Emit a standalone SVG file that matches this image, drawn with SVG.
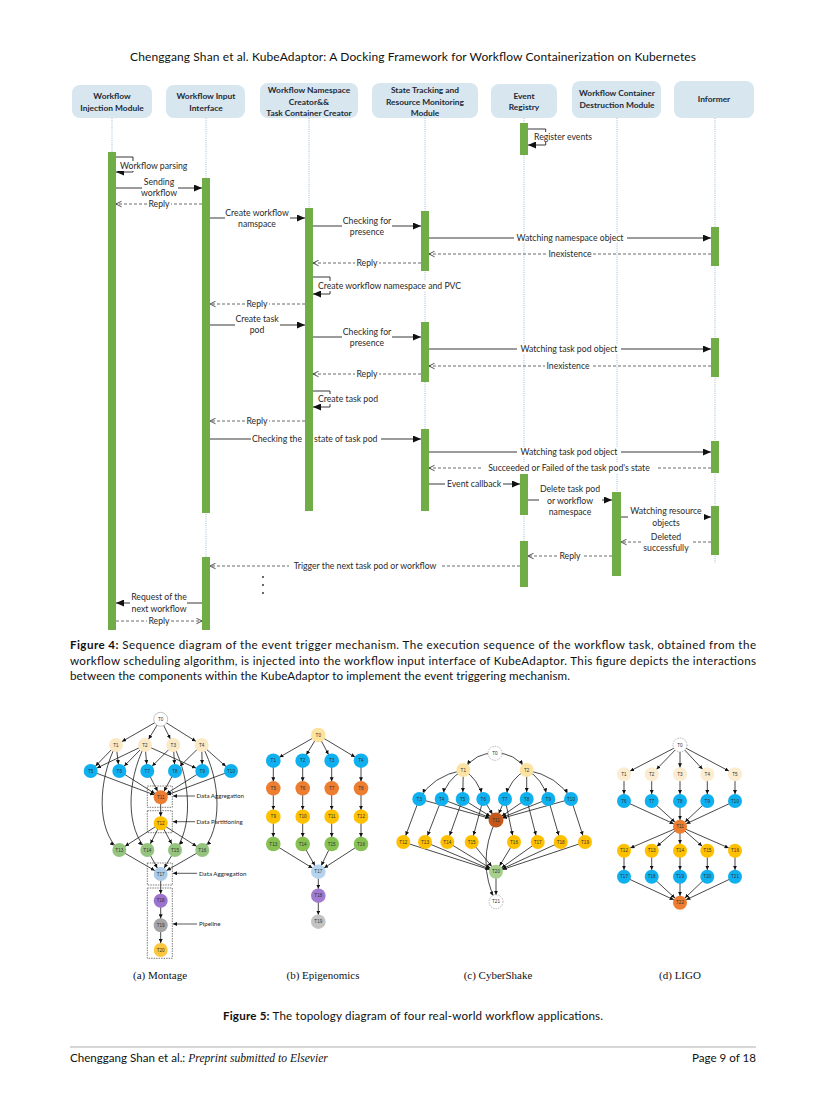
<svg xmlns="http://www.w3.org/2000/svg" width="827" height="1102" viewBox="0 0 827 1102">
<style>
.hdr{fill:#d7e6ef}
.ht{font-family:Lato,"Liberation Sans",sans-serif;font-weight:bold;font-size:8.4px;fill:#1e2a36;text-anchor:middle}
.life{stroke:#86acd4;stroke-width:0.8;stroke-dasharray:1 1.2;fill:none}
.bar{fill:#70ad47}
.msg{stroke:#222;stroke-width:0.9;fill:none}
.ret{stroke:#444;stroke-width:0.8;stroke-dasharray:3 2;fill:none}
.bg{fill:#fff}
.mt{font-family:Lato,"Liberation Sans",sans-serif;font-size:8.7px;fill:#2a2a2a;text-anchor:middle}
.ms{font-family:Lato,"Liberation Sans",sans-serif;font-size:8.7px;fill:#2a2a2a;text-anchor:start}
.cap{font-family:Lato,"Liberation Sans",sans-serif;font-size:11.6px;fill:#111}
.capb{font-weight:bold}
.sub{font-family:"Liberation Serif",serif;font-size:11px;fill:#111;text-anchor:middle}
.de{stroke:#1a1a1a;stroke-width:0.8;fill:none;marker-end:url(#dh)}
.nl{font-family:"Liberation Sans",sans-serif;font-size:4.6px;fill:#333;text-anchor:middle;dominant-baseline:central}
.dbox{fill:none;stroke:#444;stroke-width:0.7;stroke-dasharray:1.5 1}
.ann{font-family:Lato,"Liberation Sans",sans-serif;font-size:6.2px;fill:#222}
.cr{fill:#fbe8c4}.bl{fill:#0fb0ef}.or{fill:#ed7d31}.ye{fill:#ffc000}.wh{fill:#fff;stroke:#999;stroke-width:0.6}.whd{fill:#fff;stroke:#888;stroke-width:0.6;stroke-dasharray:1.5 1}
</style>
<defs>
<marker id="fa" viewBox="0 0 10 10" refX="10" refY="5" markerWidth="8" markerHeight="7" markerUnits="userSpaceOnUse" orient="auto" preserveAspectRatio="none"><path d="M0,0 L10,5 L0,10z" fill="#111"/></marker>
<marker id="oa" viewBox="0 0 10 10" refX="9" refY="5" markerWidth="7" markerHeight="7" markerUnits="userSpaceOnUse" orient="auto"><path d="M1,1 L9,5 L1,9" fill="none" stroke="#333" stroke-width="1.2"/></marker>
<marker id="dh" viewBox="0 0 10 10" refX="27.5" refY="5" markerWidth="4" markerHeight="4" markerUnits="userSpaceOnUse" orient="auto"><path d="M0,0 L10,5 L0,10z" fill="#111"/></marker>
<marker id="ah2" viewBox="0 0 10 10" refX="10" refY="5" markerWidth="4" markerHeight="4" markerUnits="userSpaceOnUse" orient="auto"><path d="M0,0 L10,5 L0,10z" fill="#111"/></marker>
</defs>
<rect width="827" height="1102" fill="#fff"/>
<text x="413" y="61" class="cap" text-anchor="middle" style="font-size:12px" textLength="566">Chenggang Shan et al. KubeAdaptor: A Docking Framework for Workflow Containerization on Kubernetes</text>

<!-- lifelines -->
<g id="lifelines">
<line class="life" x1="112" y1="118" x2="112" y2="152"/>
<line class="life" x1="206" y1="118" x2="206" y2="557"/>
<line class="life" x1="309" y1="118" x2="309" y2="208"/>
<line class="life" x1="425" y1="118" x2="425" y2="429"/>
<line class="life" x1="524" y1="118" x2="524" y2="541"/>
<line class="life" x1="617" y1="118" x2="617" y2="492"/>
<line class="life" x1="715" y1="118" x2="715" y2="563"/>
</g>

<g id="h1"><rect class="hdr" x="72" y="85" width="80" height="33" rx="8"/><text class="ht" x="112" y="99">Workflow</text><text class="ht" x="112" y="110.5">Injection Module</text></g>
<g id="h2"><rect class="hdr" x="166" y="85" width="79" height="33" rx="8"/><text class="ht" x="206" y="99">Workflow Input</text><text class="ht" x="206" y="110.5">Interface</text></g>
<g id="h3"><rect class="hdr" x="260" y="83" width="98" height="35" rx="8"/><text class="ht" x="309" y="93">Workflow Namespace</text><text class="ht" x="309" y="104.5">Creator&amp;&amp;</text><text class="ht" x="309" y="116">Task Container Creator</text></g>
<g id="h4"><rect class="hdr" x="372" y="83" width="106" height="35" rx="8"/><text class="ht" x="425" y="93">State Tracking and</text><text class="ht" x="425" y="104.5">Resource Monitoring</text><text class="ht" x="425" y="116">Module</text></g>
<g id="h5"><rect class="hdr" x="491" y="84" width="66" height="34" rx="8"/><text class="ht" x="524" y="98.5">Event</text><text class="ht" x="524" y="110">Registry</text></g>
<g id="h6"><rect class="hdr" x="572" y="81" width="89" height="37" rx="8"/><text class="ht" x="617" y="96">Workflow Container</text><text class="ht" x="617" y="107.7">Destruction Module</text></g>
<g id="h7"><rect class="hdr" x="674" y="81" width="80" height="37" rx="8"/><text class="ht" x="714" y="102">Informer</text></g>

<!-- messages -->
<g id="messages">
<path class="msg" d="M528,129 H545.7 V145 H528" marker-end="url(#fa)"/>
<rect class="bg" x="533" y="132" width="62" height="10"/><text class="ms" x="534" y="140.3">Register events</text>

<path class="msg" d="M116,157 H133 V172 H116" marker-end="url(#fa)"/>
<rect class="bg" x="119" y="161" width="71" height="10"/><text class="ms" x="120" y="169">Workflow parsing</text>

<line class="msg" x1="116" y1="188" x2="202" y2="188" marker-end="url(#fa)"/>
<rect class="bg" x="142" y="176" width="36" height="22"/><text class="mt" x="159" y="185">Sending</text><text class="mt" x="159" y="196">workflow</text>

<line class="ret" x1="202" y1="204" x2="116" y2="204" marker-end="url(#oa)"/>
<rect class="bg" x="147" y="199" width="24" height="10"/><text class="mt" x="159" y="207">Reply</text>

<line class="msg" x1="210" y1="218" x2="305" y2="218" marker-end="url(#fa)"/>
<rect class="bg" x="225" y="207" width="65" height="22"/><text class="mt" x="257" y="216">Create workflow</text><text class="mt" x="257" y="227">namspace</text>

<line class="msg" x1="313" y1="226" x2="421" y2="226" marker-end="url(#fa)"/>
<rect class="bg" x="342" y="215" width="50" height="22"/><text class="mt" x="367" y="224">Checking for</text><text class="mt" x="367" y="235">presence</text>

<line class="msg" x1="429" y1="238" x2="711" y2="238" marker-end="url(#fa)"/>
<rect class="bg" x="514" y="233" width="113" height="10"/><text class="mt" x="570" y="241">Watching namespace object</text>

<line class="ret" x1="711" y1="254" x2="429" y2="254" marker-end="url(#oa)"/>
<rect class="bg" x="547" y="249" width="46" height="10"/><text class="mt" x="570" y="257">Inexistence</text>

<line class="ret" x1="421" y1="263" x2="313" y2="263" marker-end="url(#oa)"/>
<rect class="bg" x="355" y="258" width="24" height="10"/><text class="mt" x="367" y="266">Reply</text>

<path class="msg" d="M313,277 H330 V294 H313" marker-end="url(#fa)"/>
<rect class="bg" x="317" y="281" width="146" height="10"/><text class="ms" x="318" y="289">Create workflow namespace and PVC</text>

<line class="ret" x1="305" y1="304" x2="210" y2="304" marker-end="url(#oa)"/>
<rect class="bg" x="245" y="299" width="24" height="10"/><text class="mt" x="257" y="307">Reply</text>

<line class="msg" x1="210" y1="325" x2="305" y2="325" marker-end="url(#fa)"/>
<rect class="bg" x="235" y="314" width="45" height="22"/><text class="mt" x="257" y="322">Create task</text><text class="mt" x="257" y="333">pod</text>

<line class="msg" x1="313" y1="337" x2="421" y2="337" marker-end="url(#fa)"/>
<rect class="bg" x="342" y="326" width="50" height="22"/><text class="mt" x="367" y="335">Checking for</text><text class="mt" x="367" y="346">presence</text>

<line class="msg" x1="429" y1="349" x2="711" y2="349" marker-end="url(#fa)"/>
<rect class="bg" x="517" y="344" width="104" height="10"/><text class="mt" x="569" y="352">Watching task pod object</text>

<line class="ret" x1="711" y1="366" x2="429" y2="366" marker-end="url(#oa)"/>
<rect class="bg" x="545" y="361" width="46" height="10"/><text class="mt" x="568" y="369">Inexistence</text>

<line class="ret" x1="421" y1="374" x2="313" y2="374" marker-end="url(#oa)"/>
<rect class="bg" x="355" y="369" width="24" height="10"/><text class="mt" x="367" y="377">Reply</text>

<path class="msg" d="M313,391 H330 V407 H313" marker-end="url(#fa)"/>
<rect class="bg" x="317" y="394" width="66" height="10"/><text class="ms" x="318" y="402">Create task pod</text>

<line class="ret" x1="305" y1="421" x2="210" y2="421" marker-end="url(#oa)"/>
<rect class="bg" x="245" y="416" width="24" height="10"/><text class="mt" x="257" y="424">Reply</text>

<line class="msg" x1="210" y1="439" x2="421" y2="439" marker-end="url(#fa)"/>
<rect class="bg" x="251" y="434" width="130" height="10"/><text class="mt" x="302" y="442" style="text-anchor:end">Checking the</text><text class="ms" x="314" y="442">state of task pod</text>

<line class="msg" x1="429" y1="452" x2="711" y2="452" marker-end="url(#fa)"/>
<rect class="bg" x="517" y="447" width="104" height="10"/><text class="mt" x="569" y="455">Watching task pod object</text>

<line class="ret" x1="711" y1="468" x2="429" y2="468" marker-end="url(#oa)"/>
<rect class="bg" x="482" y="463" width="175" height="10"/><text class="mt" x="569" y="471">Succeeded or Failed of the task pod's state</text>

<line class="msg" x1="429" y1="484" x2="520" y2="484" marker-end="url(#fa)"/>
<rect class="bg" x="445" y="479" width="58" height="10"/><text class="mt" x="474" y="487">Event callback</text>

<line class="msg" x1="528" y1="500" x2="612" y2="500" marker-end="url(#fa)"/>
<rect class="bg" x="539" y="483" width="63" height="34"/><text class="mt" x="570" y="492">Delete task pod</text><text class="mt" x="570" y="504">or workflow</text><text class="mt" x="570" y="515">namespace</text>

<line class="msg" x1="621" y1="517" x2="711" y2="517" marker-end="url(#fa)"/>
<rect class="bg" x="628" y="505" width="76" height="22"/><text class="mt" x="666" y="514">Watching resource</text><text class="mt" x="666" y="526">objects</text>

<line class="ret" x1="711" y1="542" x2="621" y2="542" marker-end="url(#oa)"/>
<rect class="bg" x="641" y="531" width="50" height="22"/><text class="mt" x="666" y="540">Deleted</text><text class="mt" x="666" y="551">successfully</text>

<line class="ret" x1="612" y1="556" x2="528" y2="556" marker-end="url(#oa)"/>
<rect class="bg" x="558" y="551" width="24" height="10"/><text class="mt" x="570" y="559">Reply</text>

<line class="ret" x1="520" y1="566" x2="210" y2="566" marker-end="url(#oa)"/>
<rect class="bg" x="289" y="561" width="152" height="10"/><text class="mt" x="365" y="569">Trigger the next task pod or workflow</text>

<circle cx="263" cy="577" r="0.9" fill="#222"/><circle cx="263" cy="585" r="0.9" fill="#222"/><circle cx="263" cy="593" r="0.9" fill="#222"/>

<line class="msg" x1="202" y1="603" x2="116" y2="603" marker-end="url(#fa)"/>
<rect class="bg" x="130" y="591" width="57" height="23"/><text class="mt" x="159" y="600">Request of the</text><text class="mt" x="159" y="612">next workflow</text>

<line class="ret" x1="116" y1="621" x2="202" y2="621" marker-end="url(#oa)"/>
<rect class="bg" x="147" y="616" width="24" height="10"/><text class="mt" x="159" y="624">Reply</text>
</g>

<!-- activation bars -->
<g id="bars">
<rect class="bar" x="108" y="152" width="8" height="478"/>
<rect class="bar" x="202" y="178" width="8" height="335"/>
<rect class="bar" x="202" y="557" width="8" height="73"/>
<rect class="bar" x="305" y="208" width="8" height="303"/>
<rect class="bar" x="421" y="211" width="8" height="60"/>
<rect class="bar" x="421" y="322" width="8" height="60"/>
<rect class="bar" x="421" y="429" width="8" height="82"/>
<rect class="bar" x="520" y="123" width="8" height="32"/>
<rect class="bar" x="520" y="474" width="8" height="41"/>
<rect class="bar" x="520" y="541" width="8" height="46"/>
<rect class="bar" x="612" y="492" width="9" height="84"/>
<rect class="bar" x="711" y="227" width="8" height="39"/>
<rect class="bar" x="711" y="338" width="8" height="39"/>
<rect class="bar" x="711" y="441" width="8" height="32"/>
<rect class="bar" x="711" y="506" width="8" height="49"/>
</g>

<text class="cap" x="70" y="649" textLength="686"><tspan class="capb">Figure 4:</tspan> Sequence diagram of the event trigger mechanism. The execution sequence of the workflow task, obtained from the</text>
<text class="cap" x="70" y="665" textLength="686">workflow scheduling algorithm, is injected into the workflow input interface of KubeAdaptor. This figure depicts the interactions</text>
<text class="cap" x="70" y="680" textLength="500">between the components within the KubeAdaptor to implement the event triggering mechanism.</text>

<!-- Montage -->
<g id="montage-edges">
<line class="de" x1="160.7" y1="719.3" x2="116" y2="745"/><line class="de" x1="160.7" y1="719.3" x2="145" y2="745"/><line class="de" x1="160.7" y1="719.3" x2="173.3" y2="745"/><line class="de" x1="160.7" y1="719.3" x2="201.7" y2="745"/>
<line class="de" x1="116" y1="745" x2="90.7" y2="771"/><line class="de" x1="116" y1="745" x2="119.3" y2="771"/>
<line class="de" x1="145" y1="745" x2="90.7" y2="771"/><line class="de" x1="145" y1="745" x2="119.3" y2="771"/><line class="de" x1="145" y1="745" x2="147.3" y2="771"/><line class="de" x1="145" y1="745" x2="202.3" y2="771"/>
<line class="de" x1="173.3" y1="745" x2="147.3" y2="771"/><line class="de" x1="173.3" y1="745" x2="175" y2="771"/>
<line class="de" x1="201.7" y1="745" x2="175" y2="771"/><line class="de" x1="201.7" y1="745" x2="202.3" y2="771"/><line class="de" x1="201.7" y1="745" x2="231" y2="771"/>
<path class="de" d="M116,745 C98,780 96,830 119.3,850"/>
<path class="de" d="M145,745 C126,782 126,830 147.3,850"/>
<path class="de" d="M173.3,745 C192,782 192,830 175,850"/>
<path class="de" d="M201.7,745 C222,782 222,830 202.3,850"/>
<line class="de" x1="90.7" y1="771" x2="160.7" y2="797.3"/><line class="de" x1="119.3" y1="771" x2="160.7" y2="797.3"/><line class="de" x1="147.3" y1="771" x2="160.7" y2="797.3"/><line class="de" x1="175" y1="771" x2="160.7" y2="797.3"/><line class="de" x1="202.3" y1="771" x2="160.7" y2="797.3"/><line class="de" x1="231" y1="771" x2="160.7" y2="797.3"/>
<line class="de" x1="160.7" y1="797.3" x2="160.7" y2="823.3"/>
<line class="de" x1="160.7" y1="823.3" x2="119.3" y2="850"/><line class="de" x1="160.7" y1="823.3" x2="147.3" y2="850"/><line class="de" x1="160.7" y1="823.3" x2="175" y2="850"/><line class="de" x1="160.7" y1="823.3" x2="202.3" y2="850"/>
<line class="de" x1="119.3" y1="850" x2="160.7" y2="874"/><line class="de" x1="147.3" y1="850" x2="160.7" y2="874"/><line class="de" x1="175" y1="850" x2="160.7" y2="874"/><line class="de" x1="202.3" y1="850" x2="160.7" y2="874"/>
<line class="de" x1="160.7" y1="874" x2="160.7" y2="900.7"/><line class="de" x1="160.7" y1="900.7" x2="160.7" y2="925.3"/><line class="de" x1="160.7" y1="925.3" x2="160.7" y2="950"/>
</g>
<g id="montage-nodes">
<g id="m0"><circle class="wh" cx="160.7" cy="719.3" r="7"/><text class="nl" x="160.7" y="719.3">T0</text></g>
<g id="m1"><circle class="cr" cx="116" cy="745" r="7"/><text class="nl" x="116" y="745">T1</text></g>
<g id="m2"><circle class="cr" cx="145" cy="745" r="7"/><text class="nl" x="145" y="745">T2</text></g>
<g id="m3"><circle class="cr" cx="173.3" cy="745" r="7"/><text class="nl" x="173.3" y="745">T3</text></g>
<g id="m4"><circle class="cr" cx="201.7" cy="745" r="7"/><text class="nl" x="201.7" y="745">T4</text></g>
<g id="m5"><circle class="bl" cx="90.7" cy="771" r="7"/><text class="nl" x="90.7" y="771">T5</text></g>
<g id="m6"><circle class="bl" cx="119.3" cy="771" r="7"/><text class="nl" x="119.3" y="771">T6</text></g>
<g id="m7"><circle class="bl" cx="147.3" cy="771" r="7"/><text class="nl" x="147.3" y="771">T7</text></g>
<g id="m8"><circle class="bl" cx="175" cy="771" r="7"/><text class="nl" x="175" y="771">T8</text></g>
<g id="m9"><circle class="bl" cx="202.3" cy="771" r="7"/><text class="nl" x="202.3" y="771">T9</text></g>
<g id="m10"><circle class="bl" cx="231" cy="771" r="7"/><text class="nl" x="231" y="771">T10</text></g>
<g id="m11"><circle class="or" cx="160.7" cy="797.3" r="7"/><text class="nl" x="160.7" y="797.3">T11</text></g>
<g id="m12"><circle class="ye" cx="160.7" cy="823.3" r="7"/><text class="nl" x="160.7" y="823.3">T12</text></g>
<g id="m13"><circle fill="#95c47f" cx="119.3" cy="850" r="7"/><text class="nl" x="119.3" y="850">T13</text></g>
<g id="m14"><circle fill="#95c47f" cx="147.3" cy="850" r="7"/><text class="nl" x="147.3" y="850">T14</text></g>
<g id="m15"><circle fill="#95c47f" cx="175" cy="850" r="7"/><text class="nl" x="175" y="850">T15</text></g>
<g id="m16"><circle fill="#95c47f" cx="202.3" cy="850" r="7"/><text class="nl" x="202.3" y="850">T16</text></g>
<g id="m17"><circle fill="#a9cbe8" cx="160.7" cy="874" r="7"/><text class="nl" x="160.7" y="874">T17</text></g>
<g id="m18"><circle fill="#9c73cf" cx="160.7" cy="900.7" r="7"/><text class="nl" x="160.7" y="900.7">T18</text></g>
<g id="m19"><circle fill="#a5a5a5" cx="160.7" cy="925.3" r="7"/><text class="nl" x="160.7" y="925.3">T19</text></g>
<g id="m20"><circle fill="#fcc73e" cx="160.7" cy="950" r="7"/><text class="nl" x="160.7" y="950">T20</text></g>
</g>
<g id="montage-annotations">
<rect class="dbox" x="147.3" y="786" width="25" height="21.3"/>
<rect class="dbox" x="147.3" y="810.7" width="25" height="22"/>
<rect class="dbox" x="147.3" y="863" width="25" height="22"/>
<rect class="dbox" x="147.3" y="888" width="25" height="70.3"/>
<line x1="195" y1="796" x2="173" y2="796" stroke="#111" stroke-width="0.7" marker-end="url(#ah2)"/><text class="ann" x="196.5" y="798.2">Data Aggregation</text>
<line x1="195" y1="821.7" x2="173" y2="821.7" stroke="#111" stroke-width="0.7" marker-end="url(#ah2)"/><text class="ann" x="196.5" y="823.9">Data Partitioning</text>
<line x1="197" y1="873.3" x2="173" y2="873.3" stroke="#111" stroke-width="0.7" marker-end="url(#ah2)"/><text class="ann" x="199" y="875.5">Data Aggregation</text>
<line x1="197" y1="924" x2="173" y2="924" stroke="#111" stroke-width="0.7" marker-end="url(#ah2)"/><text class="ann" x="199" y="926.2">Pipeline</text>
</g>

<!-- Epigenomics -->
<g id="epi-edges">
<line class="de" x1="318.3" y1="735" x2="273.3" y2="760.7"/><line class="de" x1="318.3" y1="735" x2="302.7" y2="760.7"/><line class="de" x1="318.3" y1="735" x2="331.7" y2="760.7"/><line class="de" x1="318.3" y1="735" x2="361" y2="760.7"/>
<line class="de" x1="273.3" y1="760.7" x2="273.3" y2="788.3"/><line class="de" x1="302.7" y1="760.7" x2="302.7" y2="788.3"/><line class="de" x1="331.7" y1="760.7" x2="331.7" y2="788.3"/><line class="de" x1="361" y1="760.7" x2="361" y2="788.3"/>
<line class="de" x1="273.3" y1="788.3" x2="273.3" y2="816.7"/><line class="de" x1="302.7" y1="788.3" x2="302.7" y2="816.7"/><line class="de" x1="331.7" y1="788.3" x2="331.7" y2="816.7"/><line class="de" x1="361" y1="788.3" x2="361" y2="816.7"/>
<line class="de" x1="273.3" y1="816.7" x2="273.3" y2="844"/><line class="de" x1="302.7" y1="816.7" x2="302.7" y2="844"/><line class="de" x1="331.7" y1="816.7" x2="331.7" y2="844"/><line class="de" x1="361" y1="816.7" x2="361" y2="844"/>
<line class="de" x1="273.3" y1="844" x2="318.3" y2="871.7"/><line class="de" x1="302.7" y1="844" x2="318.3" y2="871.7"/><line class="de" x1="331.7" y1="844" x2="318.3" y2="871.7"/><line class="de" x1="361" y1="844" x2="318.3" y2="871.7"/>
<line class="de" x1="318.3" y1="871.7" x2="318.3" y2="895.7"/><line class="de" x1="318.3" y1="895.7" x2="318.3" y2="921.7"/>
</g>
<g id="epi-nodes">
<g id="e0"><circle fill="#fde39b" cx="318.3" cy="735" r="7.3"/><text class="nl" x="318.3" y="735">T0</text></g>
<g id="e1"><circle class="bl" cx="273.3" cy="760.7" r="7.3"/><text class="nl" x="273.3" y="760.7">T1</text></g>
<g id="e2"><circle class="bl" cx="302.7" cy="760.7" r="7.3"/><text class="nl" x="302.7" y="760.7">T2</text></g>
<g id="e3"><circle class="bl" cx="331.7" cy="760.7" r="7.3"/><text class="nl" x="331.7" y="760.7">T3</text></g>
<g id="e4"><circle class="bl" cx="361" cy="760.7" r="7.3"/><text class="nl" x="361" y="760.7">T4</text></g>
<g id="e5"><circle class="or" cx="273.3" cy="788.3" r="7.3"/><text class="nl" x="273.3" y="788.3">T5</text></g>
<g id="e6"><circle class="or" cx="302.7" cy="788.3" r="7.3"/><text class="nl" x="302.7" y="788.3">T6</text></g>
<g id="e7"><circle class="or" cx="331.7" cy="788.3" r="7.3"/><text class="nl" x="331.7" y="788.3">T7</text></g>
<g id="e8"><circle class="or" cx="361" cy="788.3" r="7.3"/><text class="nl" x="361" y="788.3">T8</text></g>
<g id="e9"><circle class="ye" cx="273.3" cy="816.7" r="7.3"/><text class="nl" x="273.3" y="816.7">T9</text></g>
<g id="e10"><circle class="ye" cx="302.7" cy="816.7" r="7.3"/><text class="nl" x="302.7" y="816.7">T10</text></g>
<g id="e11"><circle class="ye" cx="331.7" cy="816.7" r="7.3"/><text class="nl" x="331.7" y="816.7">T11</text></g>
<g id="e12"><circle class="ye" cx="361" cy="816.7" r="7.3"/><text class="nl" x="361" y="816.7">T12</text></g>
<g id="e13"><circle fill="#86c152" cx="273.3" cy="844" r="7.3"/><text class="nl" x="273.3" y="844">T13</text></g>
<g id="e14"><circle fill="#86c152" cx="302.7" cy="844" r="7.3"/><text class="nl" x="302.7" y="844">T14</text></g>
<g id="e15"><circle fill="#86c152" cx="331.7" cy="844" r="7.3"/><text class="nl" x="331.7" y="844">T15</text></g>
<g id="e16"><circle fill="#86c152" cx="361" cy="844" r="7.3"/><text class="nl" x="361" y="844">T16</text></g>
<g id="e17"><circle fill="#b4d3ee" cx="318.3" cy="871.7" r="7.3"/><text class="nl" x="318.3" y="871.7">T17</text></g>
<g id="e18"><circle fill="#a07bd0" cx="318.3" cy="895.7" r="7.3"/><text class="nl" x="318.3" y="895.7">T18</text></g>
<g id="e19"><circle fill="#c3c3c3" cx="318.3" cy="921.7" r="7.3"/><text class="nl" x="318.3" y="921.7">T19</text></g>
</g>

<!-- CyberShake -->
<g id="cyber-edges">
<path class="de" d="M495,753.3 Q476,752 463.3,770"/><path class="de" d="M495,753.3 Q514,752 526.7,770"/>
<path class="de" d="M463.3,770 Q432,776 419.3,799"/><path class="de" d="M463.3,770 Q446,780 441.7,799"/><line class="de" x1="463.3" y1="770" x2="462.7" y2="799"/><path class="de" d="M463.3,770 Q478,778 483.3,799"/>
<path class="de" d="M526.7,770 Q510,778 505,799"/><line class="de" x1="526.7" y1="770" x2="526.7" y2="799"/><path class="de" d="M526.7,770 Q542,778 548.3,799"/><path class="de" d="M526.7,770 Q558,776 571,799"/>
<line class="de" x1="419.3" y1="799" x2="496" y2="820"/><line class="de" x1="441.7" y1="799" x2="496" y2="820"/><line class="de" x1="462.7" y1="799" x2="496" y2="820"/><line class="de" x1="483.3" y1="799" x2="496" y2="820"/><line class="de" x1="505" y1="799" x2="496" y2="820"/><line class="de" x1="526.7" y1="799" x2="496" y2="820"/><line class="de" x1="548.3" y1="799" x2="496" y2="820"/><line class="de" x1="571" y1="799" x2="496" y2="820"/>
<line class="de" x1="419.3" y1="799" x2="403.3" y2="842"/><line class="de" x1="441.7" y1="799" x2="425" y2="842"/><line class="de" x1="462.7" y1="799" x2="447.3" y2="842"/><line class="de" x1="483.3" y1="799" x2="471.7" y2="842"/><line class="de" x1="505" y1="799" x2="514" y2="842"/><line class="de" x1="526.7" y1="799" x2="537.7" y2="842"/><line class="de" x1="548.3" y1="799" x2="560.7" y2="842"/><line class="de" x1="571" y1="799" x2="585" y2="842"/>
<line class="de" x1="403.3" y1="842" x2="496" y2="871.7"/><line class="de" x1="425" y1="842" x2="496" y2="871.7"/><line class="de" x1="447.3" y1="842" x2="496" y2="871.7"/><line class="de" x1="471.7" y1="842" x2="496" y2="871.7"/><line class="de" x1="514" y1="842" x2="496" y2="871.7"/><line class="de" x1="537.7" y1="842" x2="496" y2="871.7"/><line class="de" x1="560.7" y1="842" x2="496" y2="871.7"/><line class="de" x1="585" y1="842" x2="496" y2="871.7"/>
<line class="de" x1="496" y1="871.7" x2="496" y2="901.7"/>
<path class="de" d="M496,820 Q476,862 496,901.7"/>
</g>
<g id="cyber-nodes">
<g id="c0"><circle class="whd" cx="495" cy="753.3" r="7"/><text class="nl" x="495" y="753.3">T0</text></g>
<g id="c1"><circle fill="#fce3a4" cx="463.3" cy="770" r="7"/><text class="nl" x="463.3" y="770">T1</text></g>
<g id="c2"><circle fill="#fce3a4" cx="526.7" cy="770" r="7"/><text class="nl" x="526.7" y="770">T2</text></g>
<g id="c3"><circle class="bl" cx="419.3" cy="799" r="7"/><text class="nl" x="419.3" y="799">T3</text></g>
<g id="c4"><circle class="bl" cx="441.7" cy="799" r="7"/><text class="nl" x="441.7" y="799">T4</text></g>
<g id="c5"><circle class="bl" cx="462.7" cy="799" r="7"/><text class="nl" x="462.7" y="799">T5</text></g>
<g id="c6"><circle class="bl" cx="483.3" cy="799" r="7"/><text class="nl" x="483.3" y="799">T6</text></g>
<g id="c7"><circle class="bl" cx="505" cy="799" r="7"/><text class="nl" x="505" y="799">T7</text></g>
<g id="c8"><circle class="bl" cx="526.7" cy="799" r="7"/><text class="nl" x="526.7" y="799">T8</text></g>
<g id="c9"><circle class="bl" cx="548.3" cy="799" r="7"/><text class="nl" x="548.3" y="799">T9</text></g>
<g id="c10"><circle class="bl" cx="571" cy="799" r="7"/><text class="nl" x="571" y="799">T10</text></g>
<g id="c11"><circle fill="#c4581a" cx="496" cy="820" r="7.5"/><text class="nl" x="496" y="820">T11</text></g>
<g id="c12"><circle class="ye" cx="403.3" cy="842" r="7"/><text class="nl" x="403.3" y="842">T12</text></g>
<g id="c13"><circle class="ye" cx="425" cy="842" r="7"/><text class="nl" x="425" y="842">T13</text></g>
<g id="c14"><circle class="ye" cx="447.3" cy="842" r="7"/><text class="nl" x="447.3" y="842">T14</text></g>
<g id="c15"><circle class="ye" cx="471.7" cy="842" r="7"/><text class="nl" x="471.7" y="842">T15</text></g>
<g id="c16"><circle class="ye" cx="514" cy="842" r="7"/><text class="nl" x="514" y="842">T16</text></g>
<g id="c17"><circle class="ye" cx="537.7" cy="842" r="7"/><text class="nl" x="537.7" y="842">T17</text></g>
<g id="c18"><circle class="ye" cx="560.7" cy="842" r="7"/><text class="nl" x="560.7" y="842">T18</text></g>
<g id="c19"><circle class="ye" cx="585" cy="842" r="7"/><text class="nl" x="585" y="842">T19</text></g>
<g id="c20"><circle fill="#a8d08d" cx="496" cy="871.7" r="7"/><text class="nl" x="496" y="871.7">T20</text></g>
<g id="c21"><circle class="whd" cx="496" cy="901.7" r="7"/><text class="nl" x="496" y="901.7">T21</text></g>
</g>

<!-- LIGO -->
<g id="ligo-edges">
<line class="de" x1="680" y1="745" x2="624" y2="774.3"/><line class="de" x1="680" y1="745" x2="651.7" y2="774.3"/><line class="de" x1="680" y1="745" x2="680" y2="774.3"/><line class="de" x1="680" y1="745" x2="707.3" y2="774.3"/><line class="de" x1="680" y1="745" x2="735" y2="774.3"/>
<line class="de" x1="624" y1="774.3" x2="624" y2="801"/><line class="de" x1="651.7" y1="774.3" x2="651.7" y2="801"/><line class="de" x1="680" y1="774.3" x2="680" y2="801"/><line class="de" x1="707.3" y1="774.3" x2="707.3" y2="801"/><line class="de" x1="735" y1="774.3" x2="735" y2="801"/>
<line class="de" x1="624" y1="801" x2="680" y2="826.7"/><line class="de" x1="651.7" y1="801" x2="680" y2="826.7"/><line class="de" x1="680" y1="801" x2="680" y2="826.7"/><line class="de" x1="707.3" y1="801" x2="680" y2="826.7"/><line class="de" x1="735" y1="801" x2="680" y2="826.7"/>
<line class="de" x1="680" y1="826.7" x2="624" y2="850.7"/><line class="de" x1="680" y1="826.7" x2="651.7" y2="850.7"/><line class="de" x1="680" y1="826.7" x2="680" y2="850.7"/><line class="de" x1="680" y1="826.7" x2="707.3" y2="850.7"/><line class="de" x1="680" y1="826.7" x2="735" y2="850.7"/>
<line class="de" x1="624" y1="850.7" x2="624" y2="876.7"/><line class="de" x1="651.7" y1="850.7" x2="651.7" y2="876.7"/><line class="de" x1="680" y1="850.7" x2="680" y2="876.7"/><line class="de" x1="707.3" y1="850.7" x2="707.3" y2="876.7"/><line class="de" x1="735" y1="850.7" x2="735" y2="876.7"/>
<line class="de" x1="624" y1="876.7" x2="680" y2="902.7"/><line class="de" x1="651.7" y1="876.7" x2="680" y2="902.7"/><line class="de" x1="680" y1="876.7" x2="680" y2="902.7"/><line class="de" x1="707.3" y1="876.7" x2="680" y2="902.7"/><line class="de" x1="735" y1="876.7" x2="680" y2="902.7"/>
</g>
<g id="ligo-nodes">
<g id="l0"><circle class="whd" cx="680" cy="745" r="7"/><text class="nl" x="680" y="745">T0</text></g>
<g id="l1"><circle fill="#fcedd0" cx="624" cy="774.3" r="7"/><text class="nl" x="624" y="774.3">T1</text></g>
<g id="l2"><circle fill="#fcedd0" cx="651.7" cy="774.3" r="7"/><text class="nl" x="651.7" y="774.3">T2</text></g>
<g id="l3"><circle fill="#fcedd0" cx="680" cy="774.3" r="7"/><text class="nl" x="680" y="774.3">T3</text></g>
<g id="l4"><circle fill="#fcedd0" cx="707.3" cy="774.3" r="7"/><text class="nl" x="707.3" y="774.3">T4</text></g>
<g id="l5"><circle fill="#fcedd0" cx="735" cy="774.3" r="7"/><text class="nl" x="735" y="774.3">T5</text></g>
<g id="l6"><circle class="bl" cx="624" cy="801" r="7"/><text class="nl" x="624" y="801">T6</text></g>
<g id="l7"><circle class="bl" cx="651.7" cy="801" r="7"/><text class="nl" x="651.7" y="801">T7</text></g>
<g id="l8"><circle class="bl" cx="680" cy="801" r="7"/><text class="nl" x="680" y="801">T8</text></g>
<g id="l9"><circle class="bl" cx="707.3" cy="801" r="7"/><text class="nl" x="707.3" y="801">T9</text></g>
<g id="l10"><circle class="bl" cx="735" cy="801" r="7"/><text class="nl" x="735" y="801">T10</text></g>
<g id="l11"><circle class="or" cx="680" cy="826.7" r="7"/><text class="nl" x="680" y="826.7">T11</text></g>
<g id="l12"><circle class="ye" cx="624" cy="850.7" r="7"/><text class="nl" x="624" y="850.7">T12</text></g>
<g id="l13"><circle class="ye" cx="651.7" cy="850.7" r="7"/><text class="nl" x="651.7" y="850.7">T13</text></g>
<g id="l14"><circle class="ye" cx="680" cy="850.7" r="7"/><text class="nl" x="680" y="850.7">T14</text></g>
<g id="l15"><circle class="ye" cx="707.3" cy="850.7" r="7"/><text class="nl" x="707.3" y="850.7">T15</text></g>
<g id="l16"><circle class="ye" cx="735" cy="850.7" r="7"/><text class="nl" x="735" y="850.7">T16</text></g>
<g id="l17"><circle class="bl" cx="624" cy="876.7" r="7"/><text class="nl" x="624" y="876.7">T17</text></g>
<g id="l18"><circle class="bl" cx="651.7" cy="876.7" r="7"/><text class="nl" x="651.7" y="876.7">T18</text></g>
<g id="l19"><circle class="bl" cx="680" cy="876.7" r="7"/><text class="nl" x="680" y="876.7">T19</text></g>
<g id="l20"><circle class="bl" cx="707.3" cy="876.7" r="7"/><text class="nl" x="707.3" y="876.7">T20</text></g>
<g id="l21"><circle class="bl" cx="735" cy="876.7" r="7"/><text class="nl" x="735" y="876.7">T21</text></g>
<g id="l22"><circle class="or" cx="680" cy="902.7" r="7"/><text class="nl" x="680" y="902.7">T22</text></g>
</g>

<text class="sub" x="160" y="979">(a) Montage</text>
<text class="sub" x="323" y="979">(b) Epigenomics</text>
<text class="sub" x="498" y="979">(c) CyberShake</text>
<text class="sub" x="680" y="979">(d) LIGO</text>
<text class="cap" x="413" y="1020" text-anchor="middle" textLength="380"><tspan class="capb">Figure 5:</tspan> The topology diagram of four real-world workflow applications.</text>
<line x1="70" y1="1047" x2="756" y2="1047" stroke="#999" stroke-width="0.8"/>
<text class="cap" x="70" y="1062">Chenggang Shan et al.: <tspan style="font-family:'Liberation Serif',serif;font-style:italic">Preprint submitted to Elsevier</tspan></text>
<text class="cap" x="756" y="1062" text-anchor="end">Page 9 of 18</text>
</svg>
